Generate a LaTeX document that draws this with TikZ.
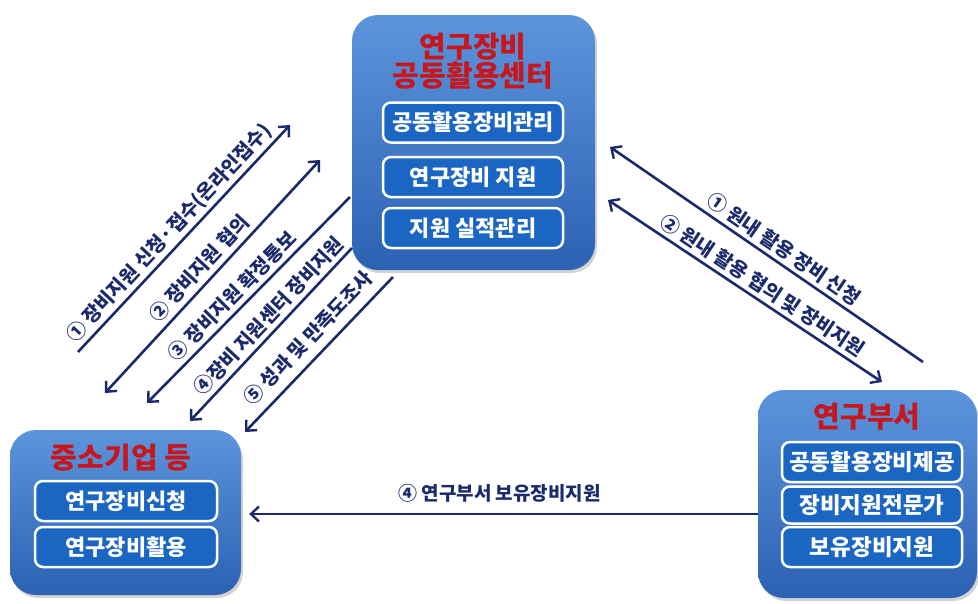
\documentclass[tikz,border=0pt]{standalone}
\usepackage{fontspec}
\setmainfont{Noto Sans CJK KR}
\usetikzlibrary{arrows.meta,shadows}
\definecolor{navy}{HTML}{1B2A6B}
\definecolor{boxtop}{HTML}{5C95DC}
\definecolor{boxbot}{HTML}{2C61B3}
\definecolor{innerfill}{HTML}{1A66C2}
\definecolor{ttl}{HTML}{C8161D}
\tikzset{>={Straight Barb[length=8pt,width=15pt,line width=2.4pt]}}
\begin{document}
\begin{tikzpicture}[x=1pt,y=-1pt,
 outerbox/.style={draw=none, rounded corners=26pt, top color=boxtop, bottom color=boxbot,
   drop shadow={shadow xshift=2pt, shadow yshift=-3pt, opacity=0.35}, inner sep=0pt},
 innerbox/.style={draw=white, line width=2.5pt, fill=innerfill, rounded corners=8pt,
   minimum width=180pt, minimum height=40pt, text=white,
   font=\bfseries\fontsize{22}{24}\selectfont, inner sep=0pt},
 titletext/.style={text=ttl, font=\bfseries\fontsize{29}{32}\selectfont, align=center, inner sep=0pt},
 arr/.style={draw=navy, line width=2.6pt},
 lab/.style={sloped, text=navy, font=\bfseries\fontsize{19.5}{21}\selectfont, inner sep=0pt}
]
\useasboundingbox (0,0) rectangle (978,603);

% boxes
\node[outerbox, minimum width=243pt, minimum height=255pt] (ctr) at (473.5,142.5) {};
\node[outerbox, minimum width=231pt, minimum height=165pt] (sme) at (125.5,512.5) {};
\node[outerbox, minimum width=219pt, minimum height=208pt] (dept) at (867.5,494) {};

\node[titletext] (ctrT) at (473,61) {연구장비\\[-3pt]공동활용센터};
\node[innerbox] (c1) at (473,122.5) {공동활용장비관리};
\node[innerbox] (c2) at (473,177) {연구장비 지원};
\node[innerbox] (c3) at (473,228) {지원 실적관리};

\node[titletext] (smeT) at (121,458) {중소기업 등};
\node[innerbox, minimum width=182pt] (s1) at (126,501) {연구장비신청};
\node[innerbox, minimum width=182pt] (s2) at (126,547) {연구장비활용};

\node[titletext] (deptT) at (867,417) {연구부서};
\node[innerbox, font=\bfseries\fontsize{22.5}{24}\selectfont] (d1) at (872,462) {공동활용장비제공};
\node[innerbox, font=\bfseries\fontsize{22.5}{24}\selectfont, minimum height=37pt] (d2) at (872,505) {장비지원전문가};
\node[innerbox, font=\bfseries\fontsize{22.5}{24}\selectfont] (d3) at (872,547) {보유장비지원};

% arrow end points
\coordinate (a1) at (78,352);  \coordinate (b1) at (290,125);
\coordinate (a2) at (105,393); \coordinate (b2) at (320,160);
\coordinate (a3) at (147,403); \coordinate (b3) at (350,197);
\coordinate (a4) at (190,421); \coordinate (b4) at (352,248);
\coordinate (a5) at (245,432); \coordinate (b5) at (393,277);
\coordinate (r1a) at (610,147); \coordinate (r1b) at (923,362);
\coordinate (r2a) at (608,200); \coordinate (r2b) at (882,382);

\draw[arr,->] (a1) -- node[lab, above=3pt, pos=0.48] (l1) {① 장비지원 신청·접수(온라인접수)} (b1);
\draw[arr,<->] (a2) -- node[lab, above=5pt, pos=0.49] (l2) {② 장비지원 협의} (b2);
\draw[arr,<-] (a3) -- node[lab, above=4pt, pos=0.47] (l3) {③ 장비지원 확정통보} (b3);
\draw[arr,<-] (a4) -- node[lab, above=4pt, pos=0.55] (l4) {④장비 지원센터 장비지원} (b4);
\draw[arr,<-] (a5) -- node[lab, above=9pt, pos=0.52] (l5) {⑤ 성과 및 만족도조사} (b5);

\draw[arr,<-] (r1a) -- node[lab, above=4pt, pos=0.53] (rl1) {① 원내 활용 장비 신청} (r1b);
\draw[arr,<->] (r2a) -- node[lab, above=4pt, pos=0.535] (rl2) {② 원내 활용 협의 및 장비지원} (r2b);

\draw[arr,->,shorten >=8pt] (dept.west |- 0,514) -- node[lab, above=10pt, pos=0.5, font=\bfseries\fontsize{19}{21}\selectfont] (bl) {④ 연구부서 보유장비지원} (sme.east |- 0,514);
\end{tikzpicture}
\end{document}
